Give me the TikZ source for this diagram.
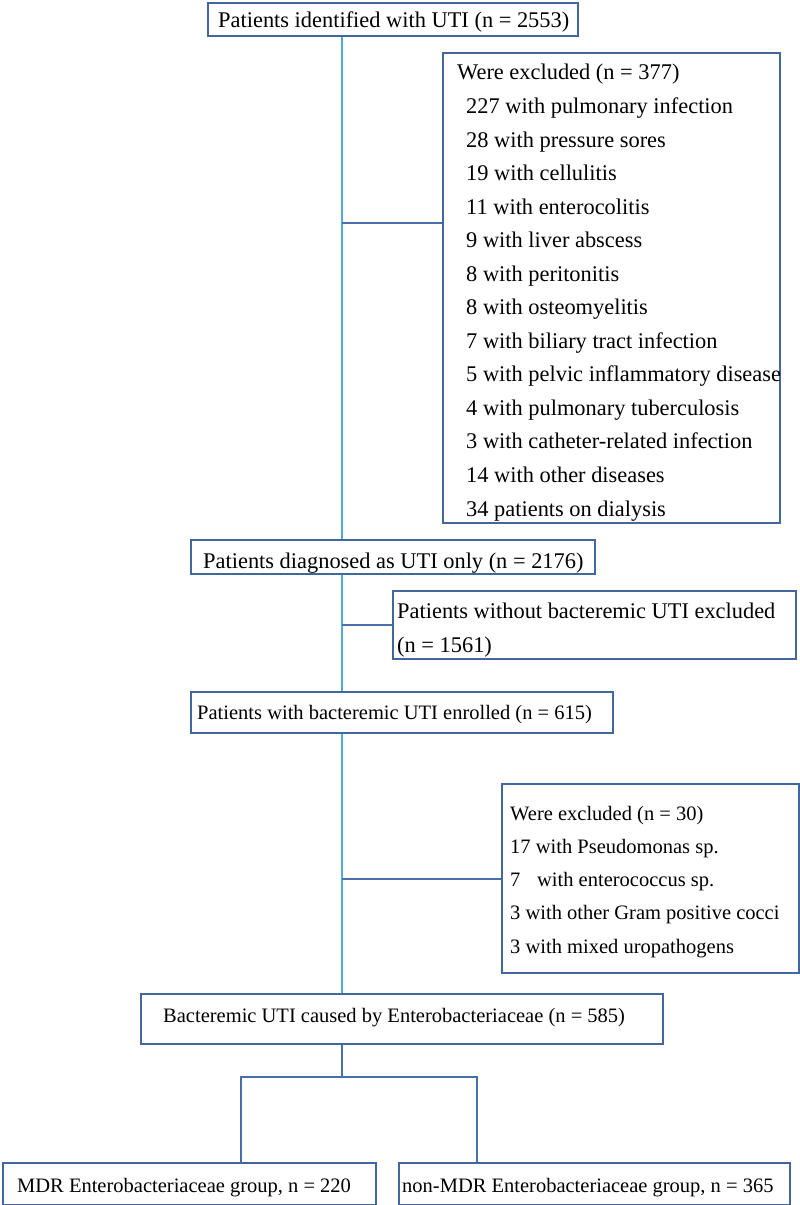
\documentclass[tikz,border=0pt]{standalone}
\usepackage{fontspec}
\setmainfont{Liberation Serif}
\definecolor{boxblue}{RGB}{65,103,156}
\definecolor{spineblue}{RGB}{78,172,214}
\definecolor{linkblue}{RGB}{70,112,172}
\tikzset{
  box/.style={draw=boxblue, line width=2.2pt, rectangle, inner sep=0pt, anchor=north west},
  big/.style={inner sep=0pt, anchor=base west, font=\fontsize{22.4}{26}\selectfont},
  small/.style={inner sep=0pt, anchor=base west, font=\fontsize{20.5}{24}\selectfont},
  spine/.style={draw=spineblue, line width=2pt},
  link/.style={draw=linkblue, line width=2pt},
}
\newcommand{\mybox}[5]{\node[box, minimum width=#4pt, minimum height=#5pt] (#1) at (#2,#3) {};}
\begin{document}
\begin{tikzpicture}[x=1pt,y=-1pt]
\useasboundingbox (0,0) rectangle (800,1205);
% boxes
\mybox{b1}{207}{1.5}{370}{33}
\mybox{b2}{442}{52}{337}{470}
\mybox{b3}{190}{539}{404}{34}
\mybox{b4}{392}{590}{403}{67.5}
\mybox{b5}{190}{691}{422}{41}
\mybox{b6}{501}{783}{297}{189}
\mybox{b7}{140}{993}{522}{50}
\mybox{b8}{2}{1162}{373}{41.5}
\mybox{b9}{398}{1162}{391}{41.5}
% texts
\node[big] (t1) at (218,27) {Patients identified with UTI (n = 2553)};
\node[big] (t2a) at (457,79.9) {Were excluded (n = 377)};
\foreach \txt [count=\i] in {227 with pulmonary infection,28 with pressure sores,19 with cellulitis,11 with enterocolitis,9 with liver abscess,8 with peritonitis,8 with osteomyelitis,7 with biliary tract infection,5 with pelvic inflammatory disease,4 with pulmonary tuberculosis,3 with catheter-related infection,14 with other diseases,34 patients on dialysis}
  \node[big] (t2-\i) at (466,{79.9+33.55*\i}) {\txt};
\node[big] (t3) at (203,568) {Patients diagnosed as UTI only (n = 2176)};
\node[big] (t4a) at (397,618) {Patients without bacteremic UTI excluded};
\node[big] (t4b) at (397,652) {(n = 1561)};
\node[small] (t5) at (197,719) {Patients with bacteremic UTI enrolled (n = 615)};
\node[small] (t6a) at (510,820) {Were excluded (n = 30)};
\node[small] (t6b) at (510,853.25) {17 with Pseudomonas sp.};
\node[small] (t6c) at (510,886.5) {7\hspace{16.7pt}with enterococcus sp.};
\node[small] (t6d) at (510,919.75) {3 with other Gram positive cocci};
\node[small] (t6e) at (510,953) {3 with mixed uropathogens};
\node[small] (t7) at (163,1022) {Bacteremic UTI caused by Enterobacteriaceae (n = 585)};
\node[small] (t8) at (17,1192) {MDR Enterobacteriaceae group, n = 220};
\node[small] (t9) at (402,1192) {non-MDR Enterobacteriaceae group, n = 365};
% connectors
\coordinate (sp) at (342,0);
\coordinate (j2) at (342,223);
\coordinate (split) at (342,1077);
\coordinate (lx) at (241,0);
\coordinate (rx) at (477,0);
\draw[spine] (b1.south -| sp) -- (b3.north -| sp);
\draw[spine] (b3.south -| sp) -- (b5.north -| sp);
\draw[spine] (b5.south -| sp) -- (b7.north -| sp);
\draw[link] (j2) -- (j2 -| b2.west);
\draw[link] (b4.west -| sp) -- (b4.west);
\draw[link] (b6.west -| sp) -- (b6.west);
\draw[link] (b7.south -| sp) -- (split);
\draw[link] (b8.north -| lx) -- (split -| lx) -- (split -| rx) -- (b9.north -| rx);
\end{tikzpicture}
\end{document}
